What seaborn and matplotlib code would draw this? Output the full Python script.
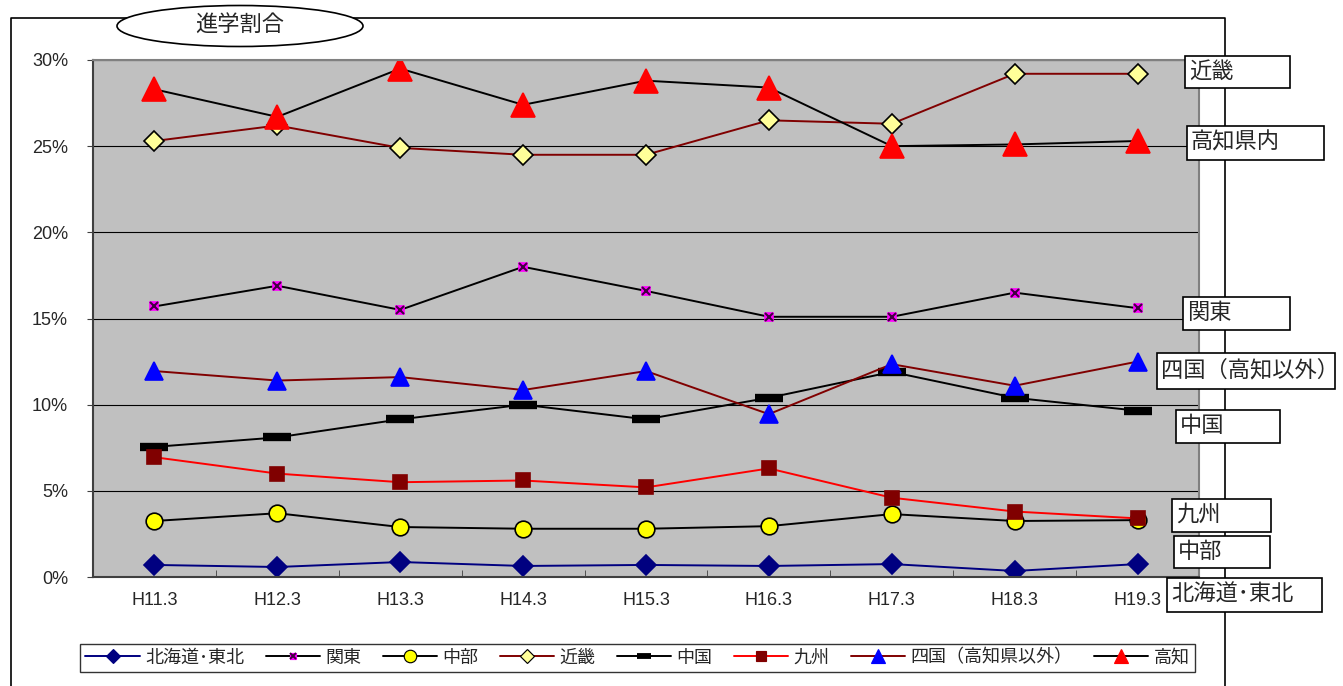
import matplotlib
matplotlib.use("Agg")
import matplotlib.pyplot as plt
from matplotlib.patches import Ellipse, Rectangle
from matplotlib.lines import Line2D
from matplotlib.legend_handler import HandlerTuple
from matplotlib.ticker import FixedLocator, PercentFormatter
import numpy as np
import seaborn as sns

years = ["H11.3", "H12.3", "H13.3", "H14.3", "H15.3", "H16.3", "H17.3", "H18.3", "H19.3"]

hokkaido_tohoku = [0.70, 0.58, 0.87, 0.64, 0.70, 0.64, 0.75, 0.35, 0.75]
kanto = [15.7, 16.9, 15.5, 18.0, 16.6, 15.1, 15.1, 16.5, 15.6]
chubu = [3.25, 3.7, 2.9, 2.8, 2.8, 2.95, 3.65, 3.25, 3.3]
kinki = [25.3, 26.2, 24.9, 24.5, 24.5, 26.5, 26.3, 29.2, 29.2]
chugoku = [7.55, 8.1, 9.15, 10.0, 9.15, 10.4, 11.9, 10.4, 9.65]
kyushu = [6.95, 6.0, 5.5, 5.6, 5.2, 6.3, 4.6, 3.8, 3.4]
shikoku = [11.95, 11.4, 11.6, 10.85, 11.95, 9.45, 12.35, 11.1, 12.5]
kochi = [28.3, 26.7, 29.5, 27.4, 28.8, 28.4, 25.0, 25.1, 25.3]

series_names = ["北海道･東北", "関東", "中部", "近畿", "中国", "九州", "四国（高知県以外）", "高知"]
side_labels = ["近畿", "高知県内", "関東", "四国（高知以外）", "中国", "九州", "中部", "北海道･東北"]

sns.set_style("white")
plt.rcParams['font.family'] = ['Liberation Sans', 'Noto Sans CJK JP', 'DejaVu Sans']

W, H = 1343, 686
fig = plt.figure(figsize=(W / 100, H / 100), dpi=100)


def fx(px):
    return px / W


def fy(py):
    return 1 - py / H


ax = fig.add_axes([fx(93), fy(577), fx(1199) - fx(93), fy(60) - fy(577)])
ax.set_facecolor("#C0C0C0")
x = np.arange(len(years))

# style per series: line colour, marker, size, face, edge
styles = [
    ("#000080", "D", 10, "#000080", "#000080"),
    ("black", "s", 6, "#FF00FF", "#FF00FF"),
    ("black", "o", 12, "#FFFF00", "black"),
    ("#800000", "D", 10, "#FFFF99", "black"),
    ("black", "_", 20, "black", "black"),
    ("#FF0000", "s", 10, "#800000", "#800000"),
    ("#800000", "^", 13, "#0000FF", "#0000FF"),
    ("black", "^", 17, "#FF0000", "#FF0000"),
]
data = [hokkaido_tohoku, kanto, chubu, kinki, chugoku, kyushu, shikoku, kochi]

handles = []
for name, vals, (lc, mk, ms, mf, me) in zip(series_names, data, styles):
    mew = 6 if mk == "_" else 1.2
    sns.lineplot(x=x, y=vals, ax=ax, color=lc, linewidth=1.4, marker=mk, markersize=ms,
                 markerfacecolor=mf, markeredgecolor=me, markeredgewidth=mew, legend=False)
    h = Line2D([], [], color=lc, linewidth=1.4, marker=mk, markersize=min(ms * 0.75, 10),
               markerfacecolor=mf, markeredgecolor=me, markeredgewidth=mew * 0.7)
    if name == "関東":
        ax.plot(x, vals, linestyle="none", marker="x", markersize=6, markeredgecolor="#400040",
                markeredgewidth=1.5)
        h = (h, Line2D([], [], linestyle="none", marker="x", markersize=5,
                       markeredgecolor="#400040", markeredgewidth=1.4))
    handles.append(h)

ax.set_xlim(-0.5, len(years) - 0.5)
ax.set_ylim(0, 30)
ax.set_xticks(x)
ax.set_xticklabels(years)
ax.xaxis.set_minor_locator(FixedLocator(np.arange(0.5, len(years) - 1, 1)))
ax.tick_params(axis="x", which="major", length=0, pad=11, labelsize=13)
ax.tick_params(axis="x", which="minor", length=5, direction="in", color="#404040", bottom=True)
ax.set_yticks(np.arange(0, 31, 5))
ax.yaxis.set_major_formatter(PercentFormatter(decimals=0))
ax.tick_params(axis="y", length=4, direction="out", pad=14, labelsize=13, color="#404040", left=True)
ax.grid(axis="y", color="black", linewidth=0.8)
ax.set_axisbelow(True)
for s in ["left", "bottom"]:
    ax.spines[s].set_color("#404040")
    ax.spines[s].set_linewidth(1.5)
for s in ["top", "right"]:
    ax.spines[s].set_color("#808080")
    ax.spines[s].set_linewidth(1.5)

# outer chart border
fig.add_artist(Line2D([fx(11), fx(11), fx(1225), fx(1225)], [0, fy(18), fy(18), 0],
                      color="black", linewidth=1.2, transform=fig.transFigure, zorder=1))

# title in ellipse
fig.add_artist(Ellipse((fx(240), fy(26)), fx(246), 41 / H, transform=fig.transFigure,
                       facecolor="white", edgecolor="black", linewidth=1.2, zorder=3))
fig.text(fx(240), fy(26), "進学割合", ha="center", va="center", fontsize=16, zorder=4)

leg = fig.legend(handles, series_names, loc="lower left", ncol=8,
                 bbox_to_anchor=(fx(80), fy(672), fx(1195) - fx(80), fy(633) - fy(672)),
                 mode="expand", frameon=True, fancybox=False, fontsize=13, handlelength=3,
                 handletextpad=0.3, borderaxespad=0, borderpad=0.3,
                 handler_map={tuple: HandlerTuple(ndivide=1)})
leg.get_frame().set_edgecolor("black")
leg.get_frame().set_linewidth(1.0)

# right side label boxes (left, top, right, bottom in pixels)
label_boxes = [(1185, 56, 1290, 88), (1187, 126, 1324, 160), (1183, 297, 1290, 330),
               (1157, 353, 1335, 389), (1176, 410, 1280, 443), (1172, 499, 1271, 532),
               (1174, 536, 1270, 568), (1167, 578, 1322, 612)]
for txt, (l, t, r, b) in zip(side_labels, label_boxes):
    fig.add_artist(Rectangle((fx(l), fy(b)), fx(r) - fx(l), fy(t) - fy(b), transform=fig.transFigure,
                             facecolor="white", edgecolor="black", linewidth=1.2, zorder=3))
    fig.text(fx(l + 4), fy((t + b) / 2), txt, ha="left", va="center", fontsize=16, zorder=4)

fig.savefig("out.png", dpi=100)
